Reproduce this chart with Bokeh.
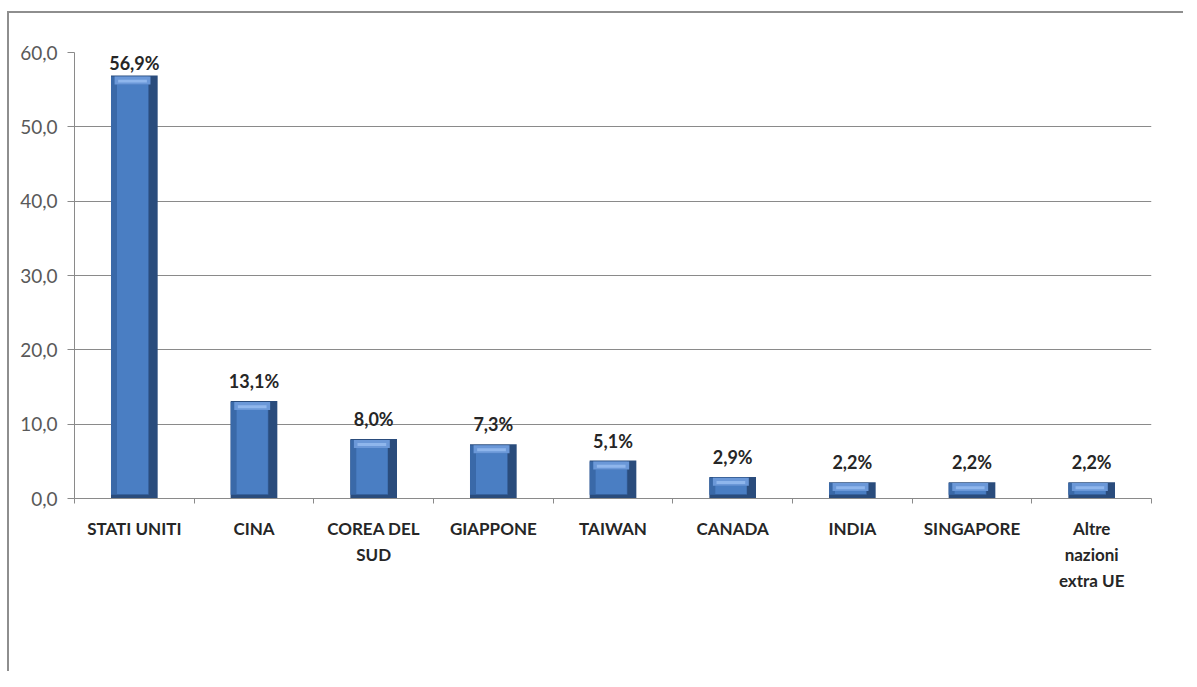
import numpy as np
from bokeh.plotting import figure
from bokeh.models import Range1d, FixedTicker, ColumnDataSource
from bokeh.core.properties import value
from bokeh.embed import file_html
from bokeh.resources import INLINE

categories = ["STATI UNITI", "CINA", "COREA DEL\nSUD", "GIAPPONE", "TAIWAN",
              "CANADA", "INDIA", "SINGAPORE", "Altre\nnazioni\nextra UE"]
shares = [56.9, 13.1, 8.0, 7.3, 5.1, 2.9, 2.2, 2.2, 2.2]
y_ticks = [0, 10, 20, 30, 40, 50, 60]

FONT = "Lato"
vals = np.array(shares)
n = len(categories)
xs = np.arange(1, n + 1)
hw = 0.195

p = figure(width=1176, height=660, output_backend="svg", toolbar_location=None,
           x_range=Range1d(0.5, n + 0.5), y_range=Range1d(0, 60),
           min_border_left=65, min_border_top=39, min_border_right=34,
           min_border_bottom=175)
p.styles = {"border-left": "2px solid #8e8e8e", "border-top": "2px solid #8e8e8e",
            "margin-top": "11px", "margin-left": "7px"}
p.outline_line_color = None
p.background_fill_color = "white"
p.border_fill_color = "white"

# grid
p.xgrid.visible = False
p.ygrid.ticker = FixedTicker(ticks=y_ticks)
p.ygrid.grid_line_color = "#8a8a8a"
p.ygrid.grid_line_width = 1

# y axis
ya = p.yaxis[0]
ya.ticker = FixedTicker(ticks=y_ticks)
ya.major_label_overrides = {t: f"{t:.1f}".replace(".", ",") for t in y_ticks}
ya.axis_line_color = "#8a8a8a"
ya.major_tick_line_color = "#8a8a8a"
ya.major_tick_out = 7
ya.major_tick_in = 0
ya.minor_tick_line_color = None
ya.major_label_text_font = FONT
ya.major_label_text_font_size = "19px"
ya.major_label_text_color = "#595959"
ya.major_label_standoff = 10

# x axis
xa = p.xaxis[0]
xa.ticker = FixedTicker(ticks=list(xs), minor_ticks=list(np.arange(0.5, n + 1, 1.0)))
xa.major_label_overrides = {int(i): c for i, c in zip(xs, categories)}
xa.axis_line_color = "#8a8a8a"
xa.major_tick_line_color = None
xa.minor_tick_line_color = "#8a8a8a"
xa.minor_tick_out = 5
xa.minor_tick_in = 0
xa.major_label_text_font = FONT
xa.major_label_text_font_style = "bold"
xa.major_label_text_font_size = "17px"
xa.major_label_text_color = "#262626"
xa.major_label_text_line_height = 1.25
xa.major_label_standoff = 13

# beveled bars
p.vbar(x=xs, top=vals, width=2 * hw, bottom=0, fill_color="#2a4c7c", line_color=None)
p.quad(left=xs - hw, right=xs + hw - 0.075, bottom=0.5, top=vals - 0.12,
       fill_color="#3a69a8", line_color=None)
p.quad(left=xs - hw + 0.05, right=xs + hw - 0.08, bottom=0.6, top=vals - 1.2,
       fill_color="#4a7ec3", line_color=None)
p.quad(left=xs - hw + 0.03, right=xs + hw - 0.06, bottom=vals - 1.2, top=vals - 0.12,
       fill_color="#6b98d8", line_color=None)
p.quad(left=xs - hw + 0.06, right=xs + hw - 0.09, bottom=vals - 0.95, top=vals - 0.55,
       fill_color="#8fb6ec", line_color=None)

# labels
label_y = np.minimum(vals + 2.7, 58.6)
src = ColumnDataSource(dict(x=xs, y=label_y,
                            t=[f"{v:.1f}".replace(".", ",") + "%" for v in shares]))
p.text(x="x", y="y", text="t", source=src, text_align="center", text_baseline="middle",
       text_font=value(FONT), text_font_style="bold", text_font_size="18px",
       text_color="#262626")

open("out.html", "w").write(file_html(p, INLINE))
